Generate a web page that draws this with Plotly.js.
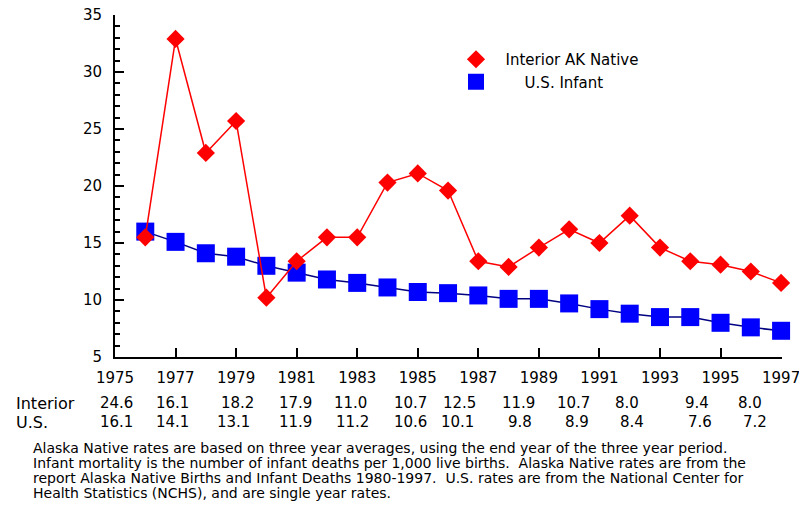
<!DOCTYPE html>
<html>
<head>
<meta charset="utf-8">
<script src="https://cdn.plot.ly/plotly-3.0.1.min.js"></script>
<style>html,body{margin:0;padding:0;background:#fff;}#chart{width:799px;height:516px;}</style>
</head>
<body>
<div id="chart"></div>
<script>
// ---- data ----
const years = [1976,1977,1978,1979,1980,1981,1982,1983,1984,1985,1986,1987,1988,1989,1990,1991,1992,1993,1994,1995,1996,1997];
const interiorAKNative = [15.5,32.9,22.9,25.7,10.2,13.4,15.5,15.5,20.3,21.1,19.6,13.4,12.9,14.6,16.2,15.0,17.4,14.6,13.4,13.1,12.5,11.5];
const usInfant = [16.0,15.1,14.1,13.8,13.0,12.4,11.8,11.5,11.1,10.7,10.6,10.4,10.1,10.1,9.7,9.2,8.8,8.5,8.5,8.0,7.6,7.3];
const tableYears = [1975,1977,1979,1981,1983,1985,1987,1989,1991,1993,1995,1997];
const tableInterior = ['24.6','16.1','18.2','17.9','11.0','10.7','12.5','11.9','10.7','8.0','9.4','8.0'];
const tableUS = ['16.1','14.1','13.1','11.9','11.2','10.6','10.1','9.8','8.9','8.4','7.6','7.2'];
const seriesNames = ['Interior AK Native', 'U.S. Infant'];
const footnoteLines = [
  'Alaska Native rates are based on three year averages, using the end year of the three year period.',
  'Infant mortality is the number of infant deaths per 1,000 live births.  Alaska Native rates are from the',
  'report Alaska Native Births and Infant Deaths 1980-1997.  U.S. rates are from the National Center for',
  'Health Statistics (NCHS), and are single year rates.'
];

// ---- layout helpers (pixel geometry) ----
const W = 799, H = 516;
const M = {l:115, r:17, t:15, b:159};
const PW = W - M.l - M.r, PH = H - M.t - M.b;
const px2x = p => (p - M.l) / PW;
const py2y = p => (H - M.b - p) / PH;
const interiorCenters = [116,172,237,295,350,410,459,518,573,627,697,750];
const usCenters = [116,172,233,295,352,410,458,520,577,632,700,755];
const FONT = 'DejaVu Sans, Verdana, sans-serif';
const NB = n => '\u00a0'.repeat(n);

const redMarker = {symbol: 'diamond', size: 14, color: '#FF0000'};
const blueMarker = {symbol: 'square', size: 18, color: '#0000FF'};

const traces = [
  {x: years, y: usInfant, name: seriesNames[1], mode: 'lines+markers', cliponaxis: false, showlegend: false,
   line: {color: '#000080', width: 1.5}, marker: blueMarker},
  {x: years, y: interiorAKNative, name: seriesNames[0], mode: 'lines+markers', cliponaxis: false, showlegend: false,
   line: {color: '#FF0000', width: 1.5}, marker: redMarker},
  // legend entries (markers only, as in the original key)
  {x: [null], y: [null], name: NB(2) + seriesNames[0], mode: 'markers', marker: redMarker, legendrank: 1},
  {x: [null], y: [null], name: NB(6) + seriesNames[1], mode: 'markers', marker: blueMarker, legendrank: 2}
];

const annotations = [];
const tf = {family: FONT, size: 15, color: '#000'};
annotations.push({text: 'Interior', xref: 'paper', yref: 'paper', x: px2x(14), y: py2y(403), xanchor: 'left', yanchor: 'middle', showarrow: false, font: {family: FONT, size: 16, color: '#000'}});
annotations.push({text: 'U.S.', xref: 'paper', yref: 'paper', x: px2x(14), y: py2y(422), xanchor: 'left', yanchor: 'middle', showarrow: false, font: {family: FONT, size: 16, color: '#000'}});
tableInterior.forEach((v, i) => annotations.push({text: v, xref: 'paper', yref: 'paper', x: px2x(interiorCenters[i]), y: py2y(403), xanchor: 'center', yanchor: 'middle', showarrow: false, font: tf}));
tableUS.forEach((v, i) => annotations.push({text: v, xref: 'paper', yref: 'paper', x: px2x(usCenters[i]), y: py2y(422), xanchor: 'center', yanchor: 'middle', showarrow: false, font: tf}));
footnoteLines.forEach((t, i) => annotations.push({text: t, xref: 'paper', yref: 'paper', x: px2x(31), y: py2y(448 + 15 * i), xanchor: 'left', yanchor: 'middle', showarrow: false, font: {family: FONT, size: 14, color: '#000'}}));

const layout = {
  width: W, height: H,
  margin: M,
  paper_bgcolor: '#fff', plot_bgcolor: '#fff',
  showlegend: true,
  legend: {x: px2x(456), y: py2y(43), xanchor: 'left', yanchor: 'top', traceorder: 'normal', itemsizing: 'trace',
           font: {family: FONT, size: 15, color: '#000'}, bgcolor: 'rgba(0,0,0,0)', itemclick: false},
  xaxis: {range: [1975, 1997.03], tickmode: 'array', tickvals: tableYears, ticks: 'inside', ticklen: 9, tickwidth: 2, tickcolor: '#000',
          showline: true, linecolor: '#000', linewidth: 2, showgrid: false, zeroline: false, ticklabelstandoff: 6,
          ticklabeloverflow: 'allow',
          tickfont: {family: FONT, size: 15, color: '#000'}},
  yaxis: {range: [5, 35], dtick: 5, tick0: 5, ticks: 'inside', ticklen: 9, tickwidth: 2, tickcolor: '#000',
          minor: {dtick: 1, ticks: 'inside', ticklen: 5, tickwidth: 2, tickcolor: '#000'},
          showline: true, linecolor: '#000', linewidth: 2, showgrid: false, zeroline: false, ticklabelstandoff: 8,
          tickfont: {family: FONT, size: 15, color: '#000'}},
  annotations: annotations
};

Plotly.newPlot('chart', traces, layout, {displayModeBar: false, staticPlot: true});
</script>
</body>
</html>
